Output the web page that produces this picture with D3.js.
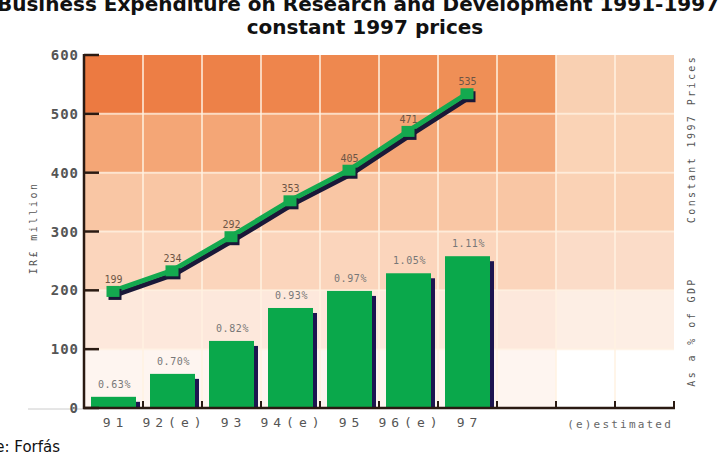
<!DOCTYPE html>
<html lang="en">
<head>
<meta charset="utf-8">
<title>Business Expenditure on Research and Development</title>
<script src="https://d3js.org/d3.v7.min.js"></script>
<style>
body { margin: 0; background: #fff; overflow: hidden; }
svg { display: block; }
.mono { font-family: "DejaVu Sans Mono", monospace; }
</style>
</head>
<body>
<svg id="chart" width="719" height="470"></svg>
<script>
// data
var years = ["91", "92(e)", "93", "94(e)", "95", "96(e)", "97"];
var spending = [199, 234, 292, 353, 405, 471, 535];      // IR£ million, constant 1997 prices
var gdpLabels = ["0.63%", "0.70%", "0.82%", "0.93%", "0.97%", "1.05%", "1.11%"];
var gdpBars = [19, 58, 114, 170, 199, 229, 258];          // bar tops, in left axis units
var yTicks = [0, 100, 200, 300, 400, 500, 600];
var nCols = 10;

var svg = d3.select("#chart"),
    margin = {top: 55, right: 45, bottom: 62, left: 84},
    width = 719 - margin.left - margin.right,
    height = 470 - margin.top - margin.bottom;

var x = d3.scaleBand()
    .domain(d3.range(nCols))
    .range([margin.left, margin.left + width]);

var y = d3.scaleLinear()
    .domain([0, 600])
    .range([margin.top + height, margin.top]);

// background colour bands: [left 8 columns, right 2 columns], bottom row first
var bandColors = [
    ["#fef5f0", "#ffffff"],
    ["#fde8dc", "#fdeee4"],
    ["#fbd5bc", "#fbdcc8"],
    ["#f9c6a4", "#fad2b5"],
    ["#f4a676", "#fad3b6"],
    ["#ee8347", "#f9d0b2"]
];
var topRow = d3.interpolateRgb("#ec7a41", "#f0935a");

var cells = [];
for (var r = 0; r < 6; r++) {
    for (var c = 0; c < nCols; c++) {
        var col = c < 8 ? bandColors[r][0] : bandColors[r][1];
        if (r == 5 && c < 8) col = topRow(c / 7);
        cells.push({r: r, c: c, color: col});
    }
}

svg.append("g").selectAll("rect")
    .data(cells)
    .enter().append("rect")
    .attr("x", function(d) { return x(d.c); })
    .attr("y", function(d) { return y(yTicks[d.r + 1]); })
    .attr("width", x.bandwidth())
    .attr("height", function(d) { return y(yTicks[d.r]) - y(yTicks[d.r + 1]); })
    .attr("fill", function(d) { return d.color; });

// light grid
var grid = svg.append("g")
    .attr("stroke", "#fff1e2")
    .attr("stroke-opacity", 0.75)
    .attr("stroke-width", 2);

grid.selectAll(".v")
    .data(d3.range(1, nCols))
    .enter().append("line")
    .attr("x1", function(d) { return x(d); })
    .attr("x2", function(d) { return x(d); })
    .attr("y1", y(600))
    .attr("y2", y(0));

grid.selectAll(".h")
    .data(yTicks.slice(1, 6))
    .enter().append("line")
    .attr("x1", x(0))
    .attr("x2", x(nCols - 1) + x.bandwidth())
    .attr("y1", function(d) { return y(d); })
    .attr("y2", function(d) { return y(d); });

// bars (% of GDP)
var barPad = 7, barW = 45, shadowW = 4;
var bars = svg.append("g").selectAll("g")
    .data(years)
    .enter().append("g");

bars.append("rect")
    .attr("x", function(d, i) { return x(i) + barPad + barW; })
    .attr("y", function(d, i) { return y(gdpBars[i]) + 5; })
    .attr("width", shadowW)
    .attr("height", function(d, i) { return y(0) - y(gdpBars[i]) - 5; })
    .attr("fill", "#1d1550");

bars.append("rect")
    .attr("x", function(d, i) { return x(i) + barPad; })
    .attr("y", function(d, i) { return y(gdpBars[i]); })
    .attr("width", barW)
    .attr("height", function(d, i) { return y(0) - y(gdpBars[i]); })
    .attr("fill", "#0aa84b");

bars.append("text")
    .attr("class", "mono")
    .attr("x", function(d, i) { return x(i) + x.bandwidth() / 2 + 1; })
    .attr("y", function(d, i) { return y(gdpBars[i]) - 9; })
    .attr("text-anchor", "middle")
    .attr("font-size", 10)
    .attr("letter-spacing", 0.6)
    .attr("fill", "#777")
    .text(function(d, i) { return gdpLabels[i]; });

// line (IR£ million)
var line = d3.line()
    .x(function(d, i) { return x(i) + x.bandwidth() / 2; })
    .y(function(d) { return y(d); });

svg.append("path")
    .datum(spending)
    .attr("d", line)
    .attr("transform", "translate(2,4)")
    .attr("fill", "none")
    .attr("stroke", "#1a1838")
    .attr("stroke-width", 5);

svg.append("path")
    .datum(spending)
    .attr("d", line)
    .attr("fill", "none")
    .attr("stroke", "#14a94f")
    .attr("stroke-width", 5);

var pts = svg.append("g").selectAll("g")
    .data(spending)
    .enter().append("g")
    .attr("transform", function(d, i) { return "translate(" + (x(i) + x.bandwidth() / 2) + "," + y(d) + ")"; });

pts.append("rect")
    .attr("x", -5).attr("y", -2)
    .attr("width", 13).attr("height", 11)
    .attr("fill", "#1a1838");

pts.append("rect")
    .attr("x", -7).attr("y", -5)
    .attr("width", 13).attr("height", 11)
    .attr("fill", "#14a94f");

pts.append("text")
    .attr("class", "mono")
    .attr("y", -8)
    .attr("text-anchor", "middle")
    .attr("font-size", 10)
    .attr("fill", "#6d5545")
    .text(function(d) { return d; });

// axes
var axisColor = "#2a1a12";

svg.append("line")
    .attr("x1", 28).attr("x2", x(0))
    .attr("y1", y(0) + 1).attr("y2", y(0) + 1)
    .attr("stroke", "#ccc");

var yAxis = svg.append("g");
yAxis.append("line")
    .attr("x1", x(0)).attr("x2", x(0))
    .attr("y1", y(600) - 1).attr("y2", y(0) + 1)
    .attr("stroke", axisColor).attr("stroke-width", 2.5);

yAxis.selectAll(".tick")
    .data(yTicks)
    .enter().append("line")
    .attr("x1", x(0)).attr("x2", x(0) + 15)
    .attr("y1", function(d) { return y(d); })
    .attr("y2", function(d) { return y(d); })
    .attr("stroke", axisColor).attr("stroke-width", 2.5);

yAxis.selectAll("text")
    .data(yTicks)
    .enter().append("text")
    .attr("class", "mono")
    .attr("x", x(0) - 5)
    .attr("y", function(d) { return y(d); })
    .attr("dy", "0.36em")
    .attr("text-anchor", "end")
    .attr("font-size", 14)
    .attr("font-weight", "bold")
    .attr("letter-spacing", 1)
    .attr("fill", "#555")
    .text(function(d) { return d; });

var xAxis = svg.append("g");
xAxis.append("line")
    .attr("x1", x(0) - 1).attr("x2", x(nCols - 1) + x.bandwidth() + 1)
    .attr("y1", y(0)).attr("y2", y(0))
    .attr("stroke", axisColor).attr("stroke-width", 2.5);

xAxis.selectAll(".tick")
    .data(d3.range(1, nCols + 1))
    .enter().append("line")
    .attr("x1", function(d) { return x(0) + d * x.bandwidth(); })
    .attr("x2", function(d) { return x(0) + d * x.bandwidth(); })
    .attr("y1", y(0) - 7).attr("y2", y(0))
    .attr("stroke", axisColor).attr("stroke-width", 2);

xAxis.selectAll("text")
    .data(years)
    .enter().append("text")
    .attr("class", "mono")
    .attr("x", function(d, i) { return x(i) + x.bandwidth() / 2 + 2; })
    .attr("y", y(0) + 19)
    .attr("text-anchor", "middle")
    .attr("font-size", 13)
    .attr("letter-spacing", 5)
    .attr("fill", "#555")
    .text(function(d) { return d; });

svg.append("text")
    .attr("class", "mono")
    .attr("x", x(nCols - 1) + x.bandwidth() - 1)
    .attr("y", y(0) + 20)
    .attr("text-anchor", "end")
    .attr("font-size", 11)
    .attr("letter-spacing", 2.2)
    .attr("fill", "#666")
    .text("(e)estimated");

// axis titles
function vText(tx, ty, s) {
    svg.append("text")
        .attr("class", "mono")
        .attr("transform", "translate(" + tx + "," + ty + ") rotate(-90)")
        .attr("text-anchor", "middle")
        .attr("font-size", 10)
        .attr("letter-spacing", 2.4)
        .attr("fill", "#555")
        .text(s);
}
vText(37, 228, "IR£ million");
vText(695, 139, "Constant 1997 Prices");
vText(695, 332, "As a % of GDP");

// title and source
var title = svg.append("text")
    .attr("text-anchor", "middle")
    .attr("font-family", "DejaVu Sans, sans-serif")
    .attr("font-weight", "bold")
    .attr("font-size", 20)
    .attr("fill", "#111");
title.append("tspan").attr("x", 358).attr("y", 11)
    .text("Business Expenditure on Research and Development 1991-1997");
title.append("tspan").attr("x", 365).attr("y", 34)
    .text("constant 1997 prices");

svg.append("text")
    .attr("x", -47)
    .attr("y", 452)
    .attr("font-family", "DejaVu Sans, sans-serif")
    .attr("font-size", 15)
    .attr("fill", "#111")
    .text("Source: Forfás");
</script>
</body>
</html>
